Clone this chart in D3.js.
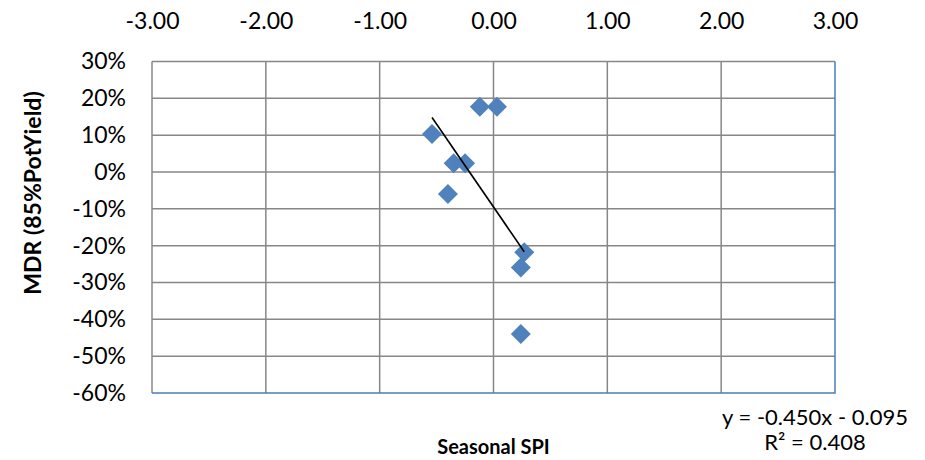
<!DOCTYPE html>
<html>
    <head>
        <meta charset="utf-8">
        <title>MDR vs Seasonal SPI</title>
        <style>
            body { margin: 0; background: #fff; }
            text { font-family: Lato, "Liberation Sans", sans-serif; fill: #000; }
        </style>
    </head>
    <body>
        <div id="container"></div>
        <script src="https://cdn.jsdelivr.net/npm/d3@7"></script>
        <script>
            // data
            var spi = [-0.12, 0.03, -0.54, -0.35, -0.25, -0.40, 0.27, 0.24, 0.24]
            var mdr = [0.177, 0.177, 0.103, 0.024, 0.024, -0.060, -0.218, -0.259, -0.440]
            var xTicks = [-3, -2, -1, 0, 1, 2, 3]
            var yTicks = [0.3, 0.2, 0.1, 0, -0.1, -0.2, -0.3, -0.4, -0.5, -0.6]
            // trendline from the chart's label
            var slope = -0.450
            var intercept = -0.095
            var r2 = 0.408

            var width = 925
            var height = 460
            // plot box (note: "top" is a reserved window prop, so use pTop etc)
            var pLeft = 152, pRight = 835, pTop = 61.5, pBottom = 393

            // d3.format gives a unicode minus, the chart uses a plain hyphen
            var fmt = function(f){
                var g = d3.format(f)
                return function(d){ return g(d).replace('\u2212', '-') }
            }

            var svg = d3.select('#container')
                .append('svg')
                .attr('width', width)
                .attr('height', height)

            var x = d3.scaleLinear().domain([-3, 3]).range([pLeft, pRight])
            var y = d3.scaleLinear().domain([-0.6, 0.3]).range([pBottom, pTop])

            // gridlines
            svg.append('g').selectAll('line')
                .data(yTicks.filter(function(d){ return d > -0.6 }))
                .enter().append('line')
                .attr('x1', pLeft).attr('x2', pRight)
                .attr('y1', function(d){ return y(d) }).attr('y2', function(d){ return y(d) })
                .attr('stroke', '#878787').attr('stroke-width', 1.5)
            svg.append('g').selectAll('line')
                .data(xTicks.filter(function(d){ return d < 3 }))
                .enter().append('line')
                .attr('y1', pTop).attr('y2', pBottom)
                .attr('x1', function(d){ return x(d) }).attr('x2', function(d){ return x(d) })
                .attr('stroke', '#878787').attr('stroke-width', 1.5)

            // blue axis lines (bottom + right)
            svg.append('path')
                .attr('d', 'M' + pLeft + ',' + y(-0.6) + 'H' + x(3) + 'V' + pTop)
                .attr('fill', 'none').attr('stroke', '#4a7ebb').attr('stroke-width', 1.5)

            // x tick labels on top
            var xAxis = svg.append('g')
                .attr('transform', 'translate(0,' + pTop + ')')
                .call(d3.axisTop(x).tickValues(xTicks).tickSize(0).tickPadding(33).tickFormat(fmt('.2f')))
            xAxis.select('.domain').remove()
            xAxis.selectAll('text').style('font-size', '23px').style('font-family', 'Lato').attr('fill', '#000')

            var yAxis = svg.append('g')
                .attr('transform', 'translate(' + pLeft + ',0)')
                .call(d3.axisLeft(y).tickValues(yTicks).tickSize(0).tickPadding(26).tickFormat(fmt('.0%')))
            yAxis.select('.domain').remove()
            yAxis.selectAll('text').style('font-size', '23px').style('font-family', 'Lato').attr('fill', '#000')

            // markers
            var pts = spi.map(function(d, i){ return [d, mdr[i]] })
            svg.append('g').selectAll('path')
                .data(pts)
                .enter().append('path')
                .attr('d', d3.symbol().type(d3.symbolSquare).size(200))
                .attr('transform', function(d){ return 'translate(' + x(d[0]) + ',' + y(d[1]) + ') rotate(45)' })
                .attr('fill', '#4f81bd')

            // trendline
            var xr = d3.extent(spi)
            svg.append('line')
                .attr('x1', x(xr[0])).attr('y1', y(slope * xr[0] + intercept))
                .attr('x2', x(xr[1])).attr('y2', y(slope * xr[1] + intercept))
                .attr('stroke', '#000').attr('stroke-width', 1.6)

            // titles
            svg.append('text')
                .attr('transform', 'translate(41,193) rotate(-90)')
                .attr('text-anchor', 'middle')
                .style('font-size', '23px').style('font-weight', 'bold')
                .text('MDR (85%PotYield)')
            svg.append('text')
                .attr('x', (pLeft + pRight) / 2).attr('y', 454)
                .attr('text-anchor', 'middle')
                .style('font-size', '20px').style('font-weight', 'bold')
                .text('Seasonal SPI')

            var eq = svg.append('text')
                .attr('text-anchor', 'middle')
                .style('font-size', '22px')
            eq.append('tspan').attr('x', 815).attr('y', 425)
                .text('y = ' + slope.toFixed(3) + 'x - ' + Math.abs(intercept).toFixed(3))
            eq.append('tspan').attr('x', 815).attr('y', 450)
                .text('R² = ' + r2.toFixed(3))
        </script>
    </body>
</html>
